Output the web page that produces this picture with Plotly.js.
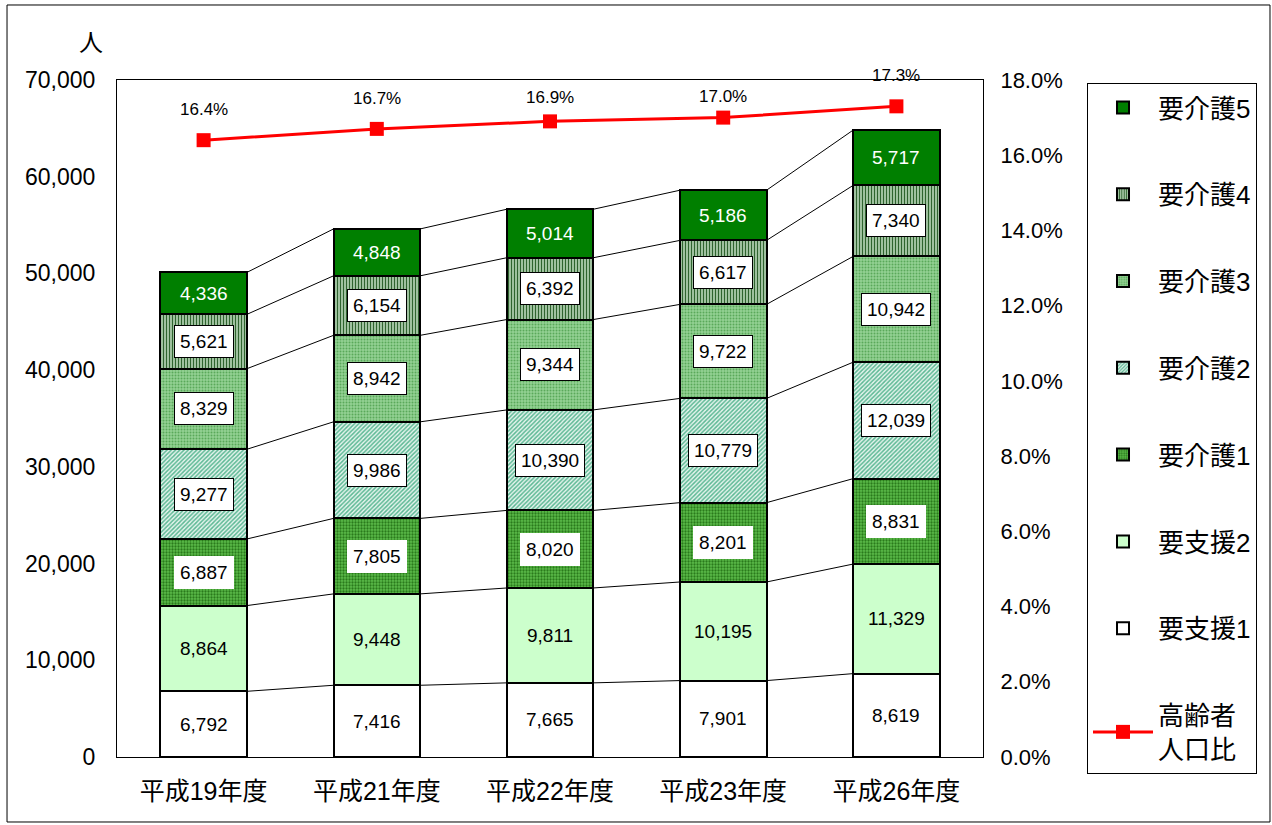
<!DOCTYPE html>
<html><head><meta charset="utf-8">
<script src="https://cdn.plot.ly/plotly-3.0.1.min.js"></script>
<style>html,body{margin:0;padding:0;background:#fff}#chart{width:1272px;height:825px}</style>
</head><body><div id="chart"></div>
<script>
const categories = ['平成19年度','平成21年度','平成22年度','平成23年度','平成26年度'];
const seriesNames = ['要支援1','要支援2','要介護1','要介護2','要介護3','要介護4','要介護5'];
const shien1 = [6792, 7416, 7665, 7901, 8619];
const shien2 = [8864, 9448, 9811, 10195, 11329];
const kaigo1 = [6887, 7805, 8020, 8201, 8831];
const kaigo2 = [9277, 9986, 10390, 10779, 12039];
const kaigo3 = [8329, 8942, 9344, 9722, 10942];
const kaigo4 = [5621, 6154, 6392, 6617, 7340];
const kaigo5 = [4336, 4848, 5014, 5186, 5717];
const elderlyRatio = [16.4, 16.7, 16.9, 17.0, 17.3];
const ratioName = '高齢者<br>人口比';

// label offsets (px) above the line markers, as placed in the original
const ratioLabelShift = [31, 30, 24, 21, 31];

const seriesValues = [shien1, shien2, kaigo1, kaigo2, kaigo3, kaigo4, kaigo5];
const styles = [
  {color:'#ffffff'},
  {color:'#ccffcc'},
  {color:'#3f9f30', pattern:{shape:'.', fgcolor:'#2a7a1c', bgcolor:'#5cbc4a', size:3, solidity:0.45}},
  {color:'#b5e0cc', pattern:{shape:'/', fgcolor:'#5cb894', bgcolor:'#e6f5ee', size:3, solidity:0.5}},
  {color:'#86c686', pattern:{shape:'.', fgcolor:'#5aa85a', bgcolor:'#94d294', size:3, solidity:0.35}},
  {color:'#86ae86', pattern:{shape:'|', fgcolor:'#2f642f', bgcolor:'#c4e0c4', size:3, solidity:0.5}},
  {color:'#007f00'}
];
const labelStyle = [
  {font:'#000', bg:null, border:null},
  {font:'#000', bg:null, border:null},
  {font:'#000', bg:'#ffffff', border:'#ffffff'},
  {font:'#000', bg:'#ffffff', border:'#000000'},
  {font:'#000', bg:'#ffffff', border:'#000000'},
  {font:'#000', bg:'#ffffff', border:'#000000'},
  {font:'#ffffff', bg:null, border:null}
];

const xs = categories.map((c,i)=>i);
const halfW = 0.25;
const traces = [];
const annotations = [];
const cum = xs.map(()=>0);
const tops = [];
const fmt = v => v.toLocaleString('en-US');
const FONT = 'Liberation Sans, Arial, Noto Sans CJK JP, sans-serif';

seriesValues.forEach((vals, s) => {
  const st = styles[s];
  const marker = {color: st.color, line:{color:'#000', width:2}};
  if (st.pattern) marker.pattern = Object.assign({fillmode:'replace'}, st.pattern);
  traces.push({
    type:'bar', name: seriesNames[s], x: xs, y: vals, width: 0.5,
    marker, legendgroup: 'g'+s, legendrank: 100 - s, hoverinfo:'y+name'
  });
  vals.forEach((v,i)=>{
    const ls = labelStyle[s];
    const a = {x:i, y: cum[i] + v/2, xref:'x', yref:'y', text: fmt(v), showarrow:false,
      font:{family:FONT, size:19, color: ls.font}};
    if (ls.bg) { a.bgcolor = ls.bg; a.bordercolor = ls.border; a.borderwidth = 1; a.borderpad = 5; }
    annotations.push(a);
    cum[i] += v;
  });
  tops.push(cum.slice());
});

// connector lines between bars
const cx = [], cy = [];
tops.forEach(t => {
  for (let i=0;i<t.length-1;i++){
    cx.push(i+halfW, i+1-halfW, null);
    cy.push(t[i], t[i+1], null);
  }
});
traces.push({type:'scatter', mode:'lines', x:cx, y:cy, line:{color:'#000', width:1},
  showlegend:false, hoverinfo:'skip'});

traces.push({type:'scatter', mode:'lines+markers', name: ratioName, x: xs, y: elderlyRatio,
  yaxis:'y2', line:{color:'#ff0000', width:3}, marker:{symbol:'square', size:14, color:'#ff0000'},
  legendgroup:'gr', legendrank: 200, cliponaxis:false});
elderlyRatio.forEach((r,i)=>{
  annotations.push({x:i, y:r, xref:'x', yref:'y2', yshift:ratioLabelShift[i], text: r.toFixed(1)+'%', showarrow:false,
    font:{family:FONT, size:17, color:'#000'}});
});

annotations.push({x:-0.030, y:1.059, xref:'paper', yref:'paper', xanchor:'center', yanchor:'middle',
  text:'人', showarrow:false, font:{family:'Noto Sans CJK JP, sans-serif', size:24, color:'#000'}});

const layout = {
  width:1272, height:825,
  margin:{l:117, r:289, t:80, b:68},
  paper_bgcolor:'#fff', plot_bgcolor:'#fff',
  barmode:'stack', bargap:0.5,
  font:{family:FONT, color:'#000'},
  showlegend:true,
  legend:{x:1.1201, xanchor:'left', y:0.9956, yanchor:'top', bordercolor:'#000', borderwidth:1,
    traceorder:'grouped', tracegroupgap:50, maxheight:760,
    font:{family:'Liberation Sans, Arial, Noto Sans CJK JP', size:26, color:'#000'},
    itemwidth:60, bgcolor:'#fff'},
  xaxis:{tickvals: xs, ticktext: categories, range:[-0.5, 4.5], showgrid:false, zeroline:false,
    showline:true, linecolor:'#000', linewidth:1, mirror:true, ticks:'', ticklabelstandoff:12,
    tickfont:{family:'Liberation Sans, Arial, Noto Sans CJK JP', size:25}},
  yaxis:{range:[0,70000], dtick:10000, tickformat:',d', showgrid:false, zeroline:false,
    showline:true, linecolor:'#000', linewidth:1, mirror:true, ticks:'', ticklabelstandoff:16,
    tickfont:{family:FONT, size:23}},
  yaxis2:{overlaying:'y', side:'right', range:[0,18], dtick:2, tickformat:'.1f', ticksuffix:'%',
    showgrid:false, zeroline:false, showline:true, linecolor:'#000', linewidth:1, ticks:'', ticklabelstandoff:12,
    tickfont:{family:FONT, size:22}},
  annotations,
  shapes:[{type:'rect', xref:'paper', yref:'paper', x0:-0.127, x1:1.3314, y0:-0.096, y1:1.1108,
    line:{color:'#000', width:1}, fillcolor:'rgba(0,0,0,0)', layer:'below'}]
};
Plotly.newPlot('chart', traces, layout, {displayModeBar:false, staticPlot:true});
</script></body></html>
